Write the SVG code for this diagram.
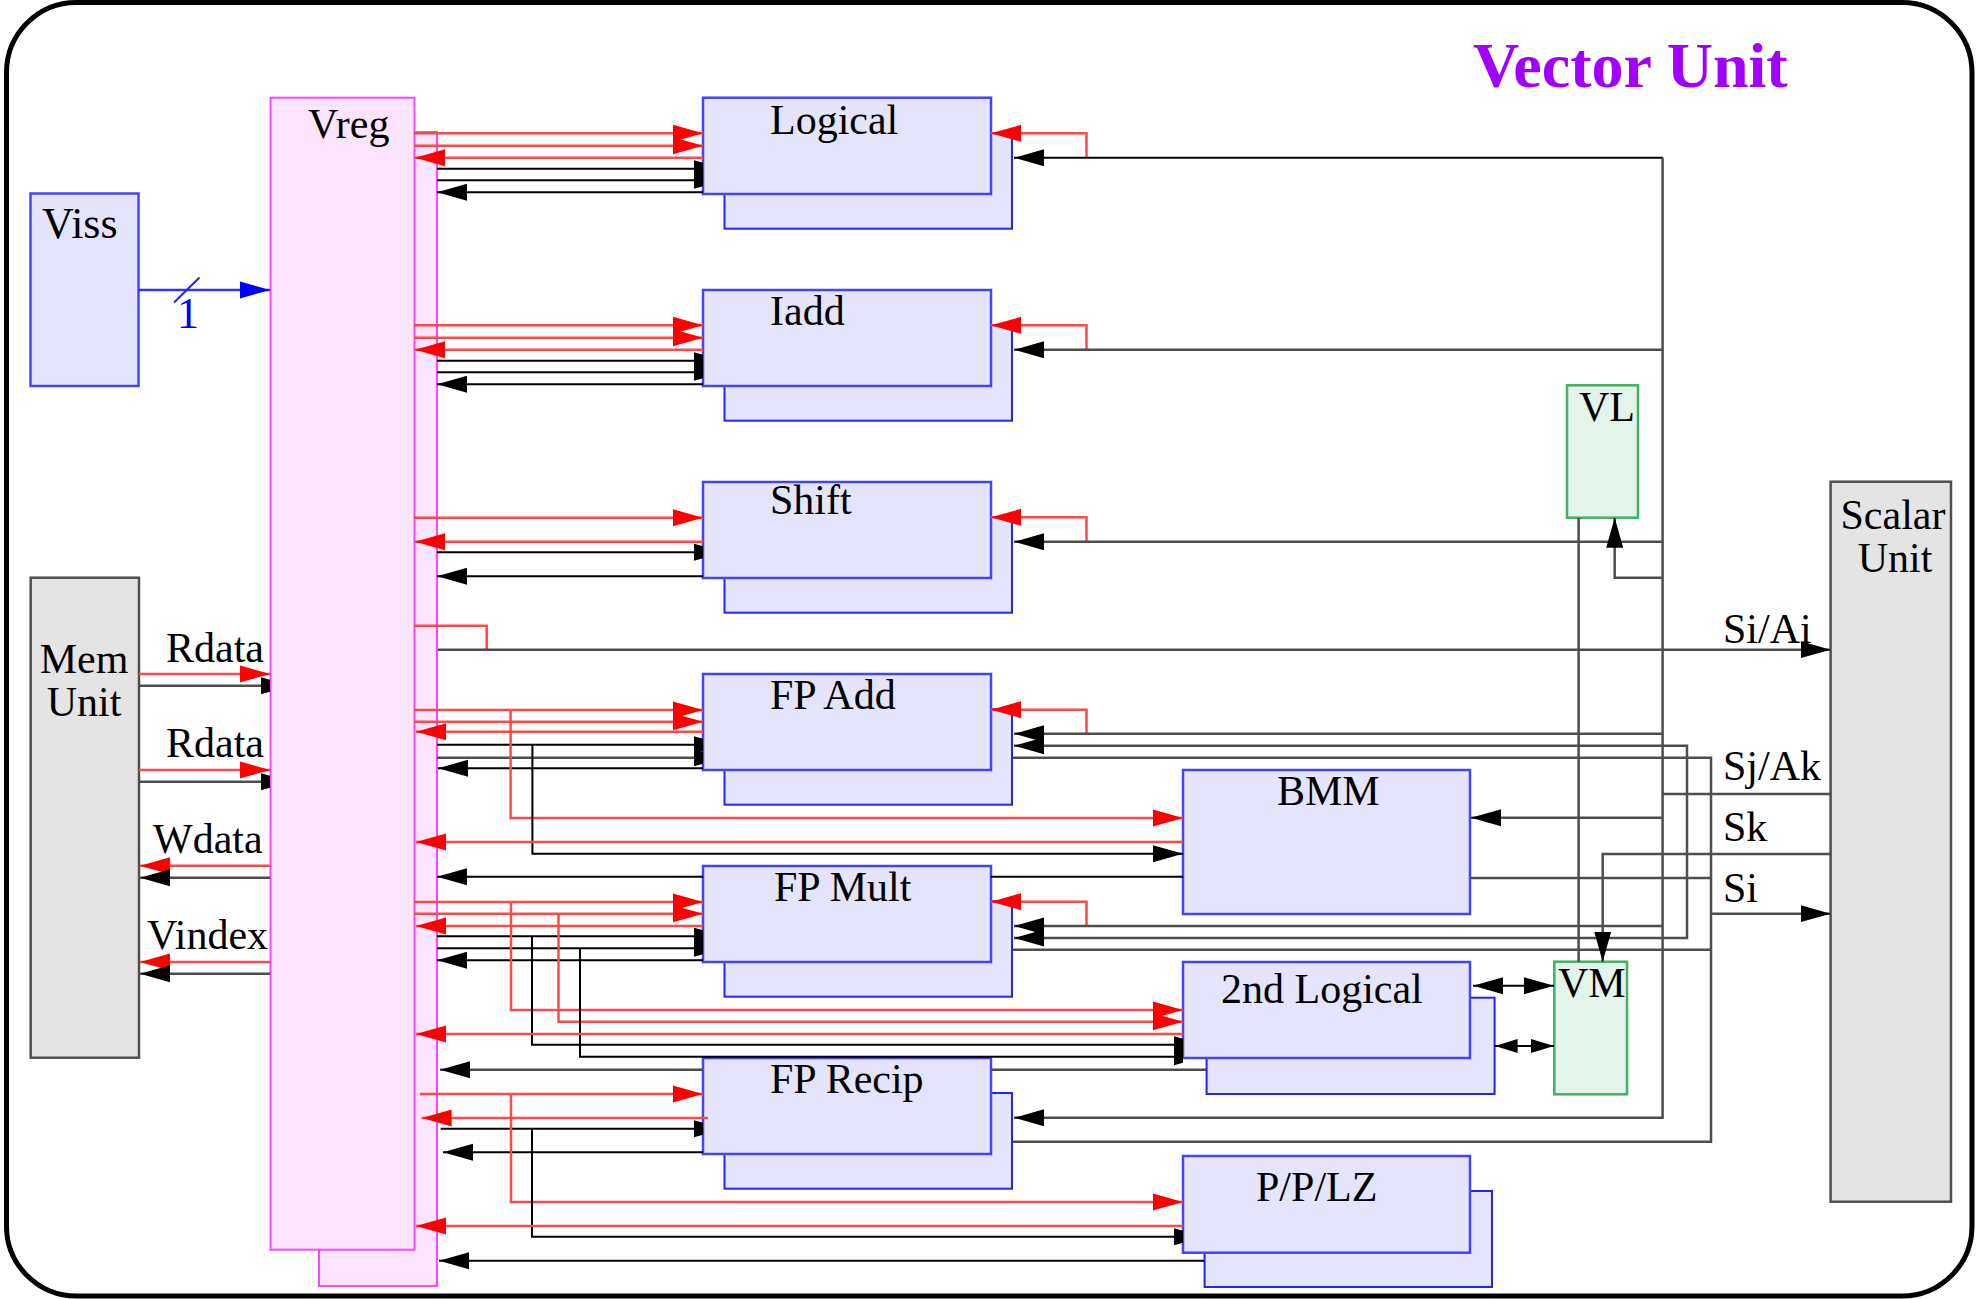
<svg xmlns="http://www.w3.org/2000/svg" width="1979" height="1299" viewBox="0 0 1979 1299">
<style>
.fb{fill:#e4e4fc;stroke:#4444ff;stroke-width:2.5}
.fbb{fill:#e4e4fc;stroke:#2222ff;stroke-width:2}
.vr{fill:#fce4fc;stroke:#ff44ff;stroke-width:2}
.gr{fill:#e4e4e4;stroke:#505050;stroke-width:2.5}
.gn{fill:#e4f4ea;stroke:#44b064;stroke-width:2.5}
.t{font-family:"Liberation Serif","Times New Roman",serif;font-size:42px;fill:#000}
.r{stroke:#ff4848;stroke-width:2.5;fill:none}
.k{stroke:#000;stroke-width:2;fill:none}
.g{stroke:#4d4d4d;stroke-width:2.5;fill:none}
</style>
<defs>
<marker id="ar" markerUnits="userSpaceOnUse" markerWidth="30" markerHeight="18" refX="30" refY="9" orient="auto-start-reverse"><path d="M0,0.5 L30,9 L0,17.5z" fill="#ff0000"/></marker>
<marker id="ak" markerUnits="userSpaceOnUse" markerWidth="30" markerHeight="18" refX="30" refY="9" orient="auto-start-reverse"><path d="M0,0.5 L30,9 L0,17.5z" fill="#000"/></marker>
<marker id="ab" markerUnits="userSpaceOnUse" markerWidth="30" markerHeight="18" refX="30" refY="9" orient="auto-start-reverse"><path d="M0,0.5 L30,9 L0,17.5z" fill="#0000ff"/></marker>
<marker id="as" markerUnits="userSpaceOnUse" markerWidth="23" markerHeight="15" refX="23" refY="7.5" orient="auto-start-reverse"><path d="M0,0.5 L23,7.5 L0,14.5z" fill="#000"/></marker>
<marker id="bl" markerUnits="userSpaceOnUse" markerWidth="9" markerHeight="18" refX="9" refY="9" orient="auto"><path d="M0,0.5 L9,3 L9,15 L0,17.5z" fill="#000"/></marker>
</defs>
<rect x="0" y="0" width="1979" height="1299" fill="#fff"/>
<rect x="6.5" y="2.5" width="1965.5" height="1293.5" rx="70" ry="70" fill="#fff" stroke="#000" stroke-width="5"/>
<text x="1473" y="87" style="font-family:'Liberation Serif','Times New Roman',serif;font-size:64px;font-weight:bold;fill:#a100ff">Vector Unit</text>

<g id="vreg">
<rect class="vr" x="319" y="132" width="118" height="1154"/>
<rect class="vr" x="270.5" y="97.7" width="144" height="1152"/>
<text class="t" x="308" y="138">Vreg</text>
</g>
<g id="viss">
<rect class="fb" x="30.5" y="193.5" width="108" height="192.5"/>
<text class="t" x="42" y="238" style="font-size:44px">Viss</text>
</g>
<g id="memunit">
<rect class="gr" x="30.7" y="577.7" width="108.3" height="480"/>
<text class="t" x="84" y="673" text-anchor="middle">Mem</text>
<text class="t" x="84" y="715.7" text-anchor="middle">Unit</text>
</g>
<g id="scalarunit">
<rect class="gr" x="1830.6" y="481.7" width="120.4" height="720"/>
<text class="t" x="1893" y="529" text-anchor="middle">Scalar</text>
<text class="t" x="1895" y="571.7" text-anchor="middle">Unit</text>
</g>
<g id="vl">
<rect class="gn" x="1567" y="385.3" width="71" height="132.4"/>
<text class="t" x="1579" y="420.7">VL</text>
</g>
<g id="vm">
<rect class="gn" x="1554.3" y="961.7" width="72.7" height="132.6"/>
<text class="t" x="1558" y="996.7">VM</text>
</g>
<g id="logical">
<rect class="fbb" x="724.5" y="133" width="287.5" height="95.7"/>
<rect class="fb" x="703" y="97.7" width="288" height="96.3"/>
<text class="t" x="770" y="133.5">Logical</text>
</g>
<g id="iadd">
<rect class="fbb" x="724.5" y="325" width="287.5" height="95.7"/>
<rect class="fb" x="703" y="290" width="288" height="96"/>
<text class="t" x="770" y="325.3">Iadd</text>
</g>
<g id="shift">
<rect class="fbb" x="724.5" y="517" width="287.5" height="95.7"/>
<rect class="fb" x="703" y="482" width="288" height="96"/>
<text class="t" x="770" y="514.3">Shift</text>
</g>
<g id="fpadd">
<rect class="fbb" x="724.5" y="709" width="287.5" height="95.7"/>
<rect class="fb" x="703" y="674" width="288" height="96"/>
<text class="t" x="770" y="709.3">FP Add</text>
</g>
<g id="fpmult">
<rect class="fbb" x="724.5" y="901" width="287.5" height="95.7"/>
<rect class="fb" x="703" y="866" width="288" height="96"/>
<text class="t" x="774" y="900.7">FP Mult</text>
</g>
<g id="fprecip">
<rect class="fbb" x="724.5" y="1093" width="287.5" height="95.7"/>
<rect class="fb" x="703" y="1058" width="288" height="96"/>
<text class="t" x="770" y="1093.3">FP Recip</text>
</g>
<g id="bmm">
<rect class="fb" x="1183" y="770" width="287" height="144"/>
<text class="t" x="1277" y="805">BMM</text>
</g>
<g id="logical2">
<rect class="fbb" x="1206.6" y="997.7" width="288" height="96.3"/>
<rect class="fb" x="1183" y="962" width="287" height="96"/>
<text class="t" x="1221" y="1003.3">2nd Logical</text>
</g>
<g id="pplz">
<rect class="fbb" x="1204.6" y="1191" width="287.4" height="96"/>
<rect class="fb" x="1183" y="1156" width="287" height="96.7"/>
<text class="t" x="1256" y="1201">P/P/LZ</text>
</g>

<g id="connectors">
<!-- Viss to Vreg -->
<path d="M138.5,290 H270" stroke="#3333ff" stroke-width="2.5" fill="none" marker-end="url(#ab)"/>
<path d="M174,302.5 L199.5,277.5" stroke="#2222ff" stroke-width="2" fill="none"/>
<text x="188" y="328" text-anchor="middle" style="font-family:'Liberation Serif','Times New Roman',serif;font-size:44px;fill:#0000ff">1</text>
<!-- Mem unit -->
<path class="r" d="M139,674 H270" marker-end="url(#ar)"/>
<path class="g" d="M139,685.7 H270" marker-end="url(#bl)"/>
<path class="r" d="M139,770 H270" marker-end="url(#ar)"/>
<path class="g" d="M139,781.7 H270" marker-end="url(#bl)"/>
<path class="r" d="M270,865.7 H140" marker-end="url(#ar)"/>
<path class="g" d="M270,877.7 H140" marker-end="url(#ak)"/>
<path class="r" d="M270,962 H140" marker-end="url(#ar)"/>
<path class="g" d="M270,973.7 H140" marker-end="url(#ak)"/>
<text class="t" x="166" y="661.7">Rdata</text>
<text class="t" x="166" y="757.3">Rdata</text>
<text class="t" x="153" y="853.3">Wdata</text>
<text class="t" x="147" y="949">Vindex</text>
<!-- Logical -->
<path class="r" d="M414,133.3 H703" marker-end="url(#ar)"/>
<path class="r" d="M414,145.7 H703" marker-end="url(#ar)"/>
<path class="r" d="M703,157.7 H415" marker-end="url(#ar)"/>
<path class="k" d="M437,168.7 H703" marker-end="url(#bl)"/>
<path class="k" d="M437,180.3 H703" marker-end="url(#bl)"/>
<path class="k" d="M703,192.3 H437" marker-end="url(#ak)"/>
<path class="r" d="M1086.5,157.7 V133.3 H991" marker-end="url(#ar)"/>
<path class="k" d="M1662.6,157.7 H1014" stroke-width="3" marker-end="url(#ak)"/>
<!-- Iadd -->
<path class="r" d="M414,325.3 H703" marker-end="url(#ar)"/>
<path class="r" d="M414,337.7 H703" marker-end="url(#ar)"/>
<path class="r" d="M703,349.7 H415" marker-end="url(#ar)"/>
<path class="k" d="M437,360.7 H703" marker-end="url(#bl)"/>
<path class="k" d="M437,372.3 H703" marker-end="url(#bl)"/>
<path class="k" d="M703,384.3 H437" marker-end="url(#ak)"/>
<path class="r" d="M1086.5,349.7 V325.3 H991" marker-end="url(#ar)"/>
<path class="g" d="M1662.6,349.7 H1014" marker-end="url(#ak)"/>
<!-- Shift -->
<path class="r" d="M414,517.7 H703" marker-end="url(#ar)"/>
<path class="r" d="M703,541.7 H415" marker-end="url(#ar)"/>
<path class="k" d="M437,552.3 H703" marker-end="url(#bl)"/>
<path class="k" d="M703,576.3 H437" marker-end="url(#ak)"/>
<path class="r" d="M1086.5,541.7 V517.3 H991" marker-end="url(#ar)"/>
<path class="g" d="M1662.6,541.7 H1014" marker-end="url(#ak)"/>
<!-- Si/Ai -->
<path class="r" d="M414,625.7 H486.7 V649.7"/>
<path class="g" d="M437.8,649.7 H1830.6" marker-end="url(#ak)"/>
<!-- FP Add -->
<path class="r" d="M414,710 H703" marker-end="url(#ar)"/>
<path class="r" d="M414,721.7 H703" marker-end="url(#ar)"/>
<path class="r" d="M703,731.7 H416" marker-end="url(#ar)"/>
<path class="k" d="M437,744.7 H703" marker-end="url(#bl)"/>
<path class="g" d="M437,757.7 H703" marker-end="url(#bl)"/>
<path class="k" d="M703,768.3 H438" marker-end="url(#ak)"/>
<path class="r" d="M1086.5,733.7 V709.7 H991" marker-end="url(#ar)"/>
<path class="g" d="M1662.6,733.7 H1014" marker-end="url(#ak)"/>
<path class="g" d="M1687,854 V745.7 H1014" marker-end="url(#ak)"/>
<path class="g" d="M1013,757.7 H1711 V1141.7 H1013"/>
<!-- BMM -->
<path class="r" d="M510.6,710 V818 H1183" marker-end="url(#ar)"/>
<path class="k" d="M532.4,744.7 V853.7 H1183" marker-end="url(#ak)"/>
<path class="r" d="M1183,842 H416" marker-end="url(#ar)"/>
<path class="k" d="M1183,876.7 H991 M703,876.7 H437" marker-end="url(#ak)"/>
<path class="g" d="M1662.6,817.7 H1471" marker-end="url(#ak)"/>
<path class="g" d="M1470,878 H1711"/>
<!-- FP Mult -->
<path class="r" d="M414,902 H703" marker-end="url(#ar)"/>
<path class="r" d="M414,913.7 H703" marker-end="url(#ar)"/>
<path class="r" d="M703,926 H416" marker-end="url(#ar)"/>
<path class="k" d="M437,936.3 H703" marker-end="url(#bl)"/>
<path class="k" d="M437,948.3 H703" marker-end="url(#bl)"/>
<path class="k" d="M703,960.3 H437" marker-end="url(#ak)"/>
<path class="r" d="M1086.5,926 V901.7 H991" marker-end="url(#ar)"/>
<path class="g" d="M1662.6,926 H1014" marker-end="url(#ak)"/>
<path class="g" d="M1687,854 V938 H1014" marker-end="url(#ak)"/>
<path class="g" d="M1013,949.7 H1711"/>
<!-- 2nd Logical -->
<path class="r" d="M511,902 V1010 H1183" marker-end="url(#ar)"/>
<path class="r" d="M558.5,913.7 V1021.7 H1183" marker-end="url(#ar)"/>
<path class="k" d="M532,936.3 V1044.7 H1183" marker-end="url(#bl)"/>
<path class="k" d="M580,948.3 V1056.7 H1183" marker-end="url(#bl)"/>
<path class="r" d="M1183,1034 H416" marker-end="url(#ar)"/>
<path class="g" d="M1206,1069.7 H991 M703,1069.7 H440" marker-end="url(#ak)"/>
<path class="k" d="M1473,985.7 H1554" marker-start="url(#ak)" marker-end="url(#ak)"/>
<path class="k" d="M1494.6,1046 H1554" marker-start="url(#as)" marker-end="url(#as)"/>
<!-- FP Recip -->
<path class="r" d="M420,1094 H703" marker-end="url(#ar)"/>
<path class="r" d="M708,1118 H421.6" marker-end="url(#ar)"/>
<path class="k" d="M440.7,1128.7 H703" marker-end="url(#bl)"/>
<path class="k" d="M703,1152.3 H443" marker-end="url(#ak)"/>
<path class="g" d="M1662.6,157.7 V1117.7 H1014" marker-end="url(#ak)"/>
<!-- P/P/LZ -->
<path class="r" d="M511,1094 V1202 H1183" marker-end="url(#ar)"/>
<path class="k" d="M532,1128.7 V1236.7 H1183" marker-end="url(#bl)"/>
<path class="r" d="M1183,1226 H416" marker-end="url(#ar)"/>
<path class="k" d="M1204,1260.7 H439" marker-end="url(#ak)"/>
<!-- VL / VM / scalar -->
<path class="g" d="M1578.6,517.7 V961.7"/>
<path class="g" d="M1662.6,577.7 H1614.7 V517.7" marker-end="url(#ak)"/>
<path class="g" d="M1830.6,794 H1662.6"/>
<path class="g" d="M1830.6,854 H1602.7 V961.7" marker-end="url(#ak)"/>
<path class="g" d="M1711,913.7 H1830.6" marker-end="url(#ak)"/>
<text class="t" x="1723" y="642.7">Si/Ai</text>
<text class="t" x="1723" y="780">Sj/Ak</text>
<text class="t" x="1723" y="841">Sk</text>
<text class="t" x="1723" y="901.7">Si</text>
</g>
</svg>
